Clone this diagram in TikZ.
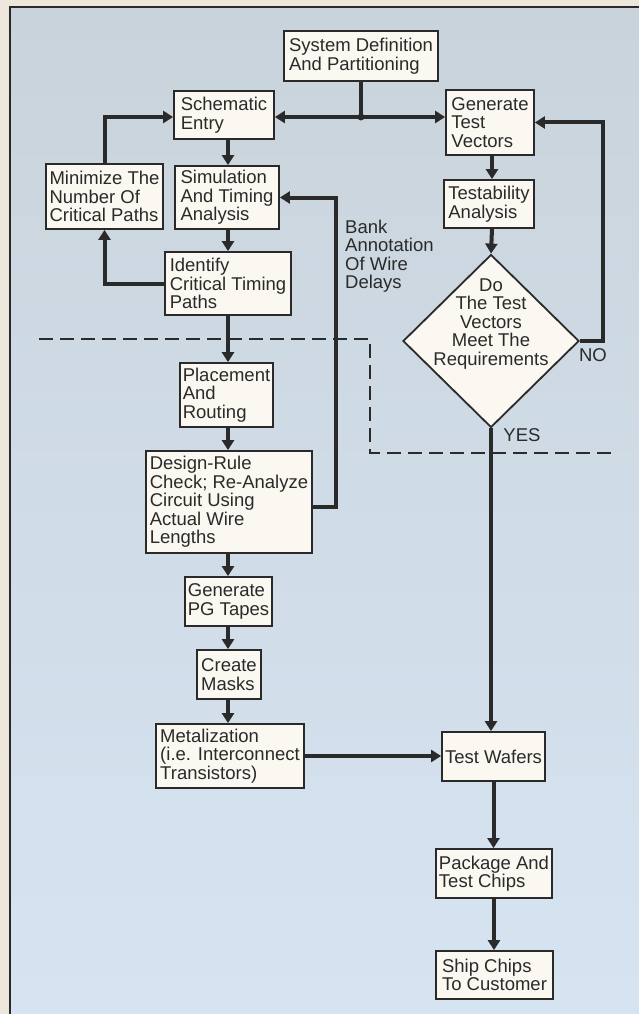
\documentclass[tikz,border=0pt]{standalone}
\usepackage{fontspec}
\setmainfont{Liberation Sans}
\usetikzlibrary{arrows.meta,shapes.geometric}
\definecolor{bgout}{RGB}{236,231,218}
\definecolor{bgtop}{RGB}{201,211,219}
\definecolor{bgbot}{RGB}{214,228,242}
\definecolor{ink}{RGB}{42,42,42}
\definecolor{boxfill}{RGB}{250,248,241}
\tikzset{
  txt/.style={font=\fontsize{18.5}{18.5}\selectfont, text=ink},
  stepbox/.style={txt, draw=ink, line width=1.8pt, fill=boxfill, align=left, inner xsep=3pt, inner ysep=1pt},
  conn/.style={draw=ink, line width=4pt},
  arr/.style={conn, -{Triangle[length=10pt,width=12pt]}},
  lbl/.style={txt, inner sep=0pt},
  divider/.style={draw=ink, line width=1.5pt, dash pattern=on 14pt off 7pt}
}
\begin{document}
\begin{tikzpicture}[x=1pt,y=-1pt]
\useasboundingbox (0,0) rectangle (639,1014);
% background
\fill[bgout] (0,0) rectangle (639,1014);
\shade[top color=bgtop, bottom color=bgbot] (10,7) rectangle (639,1014);
\draw[ink, line width=2.5pt] (639,7) -- (10,7) -- (10,1014);

% column coordinates
\coordinate (cL) at (228,0);
\coordinate (cR) at (492,0);

% boxes
\node[stepbox, minimum width=154pt, minimum height=50pt] (sys) at (361,56) {System Definition\\And Partitioning};
\node[stepbox, minimum width=100pt, minimum height=48pt] (sch) at (224,115) {Schematic\\Entry};
\node[stepbox, minimum width=88pt, minimum height=65pt] (gen) at (490,122.5) {Generate\\Test\\Vectors};
\node[stepbox, minimum width=117pt, minimum height=65pt] (min) at (104.5,196.5) {Minimize The\\Number Of\\Critical Paths};
\node[stepbox, minimum width=104pt, minimum height=63pt] (sim) at (227,197.5) {Simulation\\And Timing\\Analysis};
\node[stepbox, minimum width=90pt, minimum height=48pt] (tst) at (489,204) {Testability\\Analysis};
\node[stepbox, minimum width=126pt, minimum height=63pt] (idf) at (228,283.5) {Identify\\Critical Timing\\Paths};
\node[stepbox, minimum width=93pt, minimum height=64pt] (plc) at (226.5,395) {Placement\\And\\Routing};
\node[stepbox, minimum width=166pt, minimum height=102pt] (drc) at (229,502) {Design-Rule\\Check; Re-Analyze\\Circuit Using\\Actual Wire\\Lengths};
\node[stepbox, minimum width=87pt, minimum height=49pt] (pgt) at (228.5,601.5) {Generate\\PG Tapes};
\node[stepbox, minimum width=64pt, minimum height=49pt] (msk) at (229,674.5) {Create\\Masks};
\node[stepbox, minimum width=148pt, minimum height=64pt] (met) at (230,756) {Metalization\\(i.e. Interconnect\\Transistors)};
\node[stepbox, minimum width=101pt, minimum height=49pt] (twf) at (493.5,756.5) {Test Wafers};
\node[stepbox, minimum width=116pt, minimum height=49pt] (pkg) at (494,873.5) {Package And\\Test Chips};
\node[stepbox, minimum width=117pt, minimum height=48pt] (shp) at (494.5,975) {Ship Chips\\To Customer};

% decision
\node[diamond, draw=ink, line width=1.8pt, fill=boxfill, minimum width=176pt, minimum height=173pt, inner sep=0pt] (dia) at (491,341) {};
\node[lbl, align=center] (diat) at (491,324) {Do\\The Test\\Vectors\\Meet The\\Requirements};

% labels
\node[lbl, align=left, anchor=west] (bank) at (345,256) {Bank\\Annotation\\Of Wire\\Delays};
\node[lbl] (no) at (593,355) {NO};
\node[lbl] (yes) at (522,435) {YES};

% divider
\draw[divider] (39,339) -- (370,339) -- (370,453) -- (611,453);

% connectors
\coordinate (j) at (361,117);
\draw[conn] (sys.south) -- (j);
\draw[arr] (j) -- (j -| sch.east);
\draw[arr] (j) -- (j -| gen.west);
\fill[ink] (j) circle (3.5pt);
\draw[arr] (min.north) |- (j -| sch.west);
\draw[arr] (sch.south -| cL) -- (sim.north -| cL);
\draw[arr] (sim.south -| cL) -- (idf.north -| cL);
\draw[arr] (idf.south -| cL) -- (plc.north -| cL);
\draw[arr] (plc.south -| cL) -- (drc.north -| cL);
\draw[arr] (drc.south -| cL) -- (pgt.north -| cL);
\draw[arr] (pgt.south -| cL) -- (msk.north -| cL);
\draw[arr] (msk.south -| cL) -- (met.north -| cL);
\draw[arr] (idf.west) -| (min.south);
\coordinate (bk) at (336,507);
\draw[arr] (drc.east |- bk) -- (bk) |- (sim.east);
\draw[arr] (met.east) -- (met.east -| twf.west);
\draw[arr] (gen.south -| cR) -- (tst.north -| cR);
\draw[arr] (tst.south -| cR) -- (dia.north);
\coordinate (nx) at (603,0);
\draw[arr] (dia.east) -- (dia.east -| nx) |- (gen.east);
\draw[arr] (dia.south) -- (dia.south |- twf.north);
\draw[arr] (twf.south) -- (twf.south |- pkg.north);
\draw[arr] (pkg.south) -- (pkg.south |- shp.north);
\end{tikzpicture}
\end{document}
